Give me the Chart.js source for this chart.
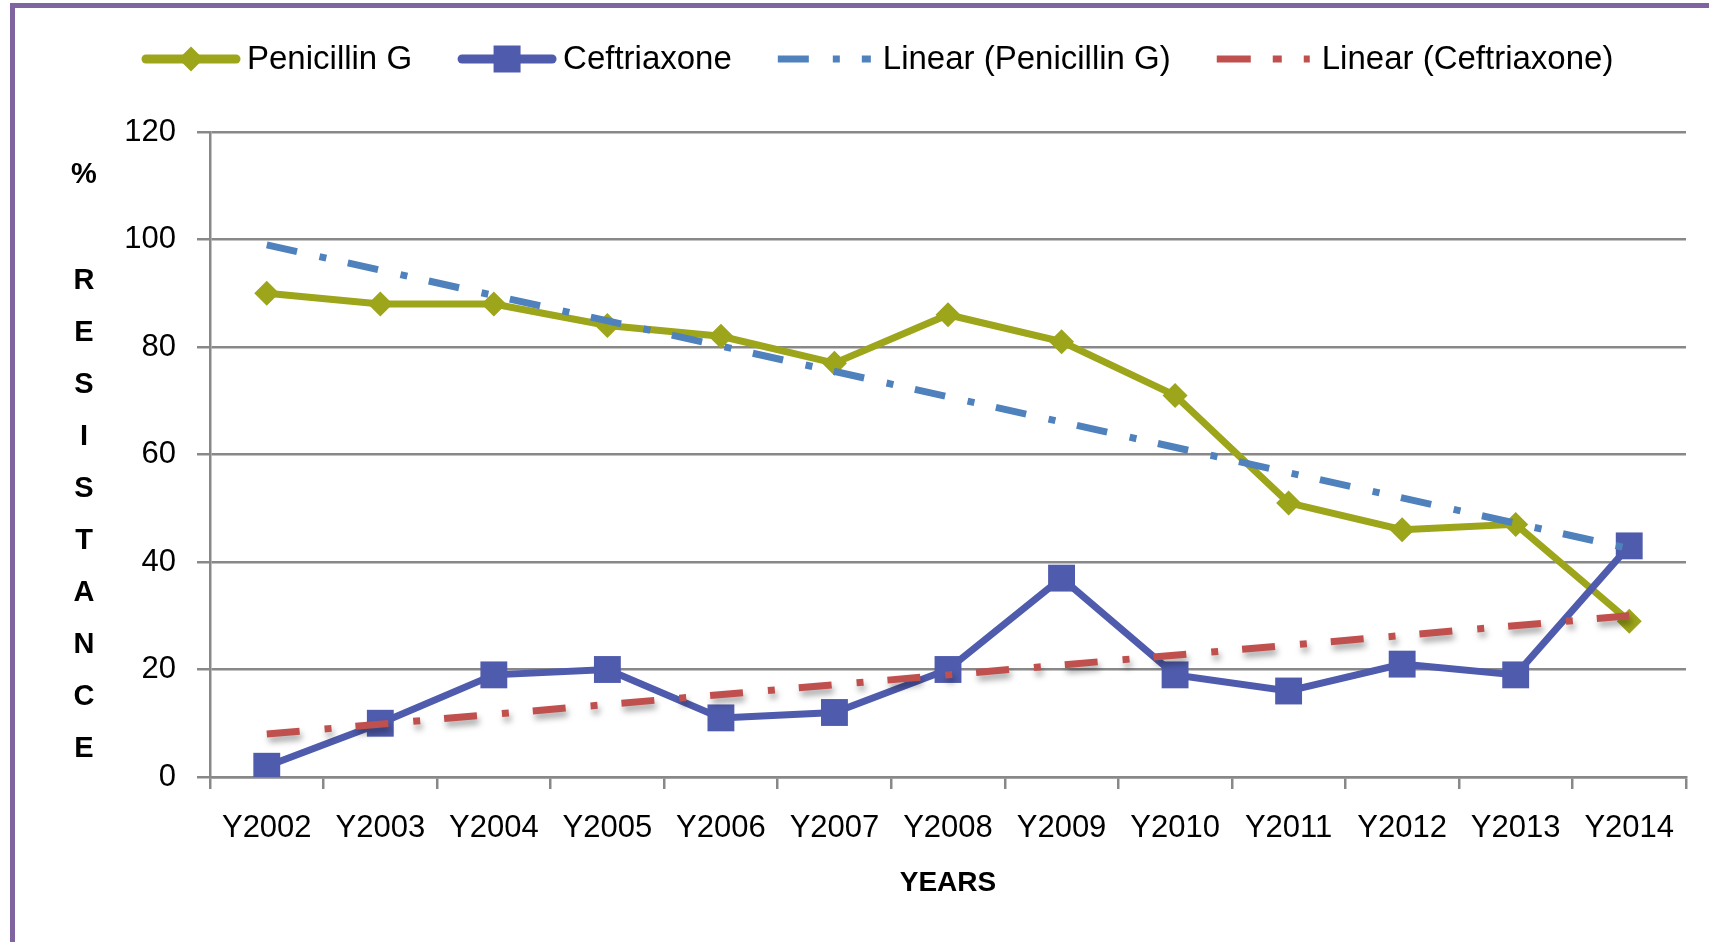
<!DOCTYPE html>
<html>
<head>
<meta charset="utf-8">
<title>Resistance: Penicillin G vs Ceftriaxone</title>
<script src="https://cdn.jsdelivr.net/npm/chart.js@4.4.1/dist/chart.umd.min.js"></script>
<style>
  html, body { margin: 0; padding: 0; background: #fff; overflow: hidden; }
  #wrap { position: relative; width: 1709px; height: 942px; }
  #frame { position: absolute; left: 10px; top: 3px; right: 0; bottom: 0;
           border-left: 5px solid #8064A2; border-top: 5px solid #8064A2; pointer-events: none; }
</style>
</head>
<body>
<div id="wrap">
  <canvas id="resistanceChart"></canvas>
  <div id="frame"></div>
</div>
<script>
const years = ['Y2002', 'Y2003', 'Y2004', 'Y2005', 'Y2006', 'Y2007', 'Y2008',
               'Y2009', 'Y2010', 'Y2011', 'Y2012', 'Y2013', 'Y2014'];
const penicillinG = [90, 88, 88, 84, 82, 77, 86, 81, 71, 51, 46, 47, 29];
const ceftriaxone = [2, 10, 19, 20, 11, 12, 20, 37, 19, 16, 21, 19, 43];
// trendline ends (first and last year)
const penicillinTrend = [99, 42.5];
const ceftriaxoneTrend = [8, 30];
const yTicks = [0, 20, 40, 60, 80, 100, 120];
const yTitle = ['R', 'E', 'S', 'I', 'S', 'T', 'A', 'N', 'C', 'E'];

const FONT = '"Liberation Sans", Arial, sans-serif';
const OLIVE = '#9DA51A';
const NAVY = '#4F5BAC';
const BLUE = '#4F81BD';
const RED = '#C0504D';
const GRID = '#888888';

const trendPoints = (ends) => [
    { x: years[0], y: ends[0] },
    { x: years[years.length - 1], y: ends[1] }
];

// legend look per dataset (line sample with marker in the middle)
const legendLook = [
    { width: 9, dash: null, marker: 'diamond', size: 12.5 },
    { width: 9, dash: null, marker: 'square', size: 13.5 },
    { width: 7, dash: [31, 24, 7, 22], marker: null },
    { width: 7, dash: [34, 22, 9, 22], marker: null }
];

function drawMarker(ctx, kind, x, y, s) {
    ctx.beginPath();
    if (kind === 'diamond') {
        ctx.moveTo(x - s, y);
        ctx.lineTo(x, y - s);
        ctx.lineTo(x + s, y);
        ctx.lineTo(x, y + s);
        ctx.closePath();
    } else {
        ctx.rect(x - s, y - s, 2 * s, 2 * s);
    }
    ctx.fill();
}

const sideText = {
    id: 'sideText',
    afterDraw(chart) {
        const ctx = chart.ctx;
        ctx.save();
        ctx.fillStyle = '#000';
        ctx.textAlign = 'center';
        ctx.textBaseline = 'middle';
        ctx.font = 'bold 29px ' + FONT;
        ctx.fillText('%', 84, 175);
        yTitle.forEach((ch, i) => ctx.fillText(ch, 84, 281 + i * 52.0));

        // legend
        let x = 142;
        const y = 59;
        ctx.font = '33px ' + FONT;
        ctx.textAlign = 'left';
        chart.data.datasets.forEach((ds, i) => {
            const look = legendLook[i];
            ctx.save();
            ctx.strokeStyle = ds.borderColor;
            ctx.lineWidth = look.width;
            if (look.dash) {
                ctx.setLineDash(look.dash);
                ctx.lineCap = 'butt';
            } else {
                ctx.lineCap = 'round';
            }
            ctx.beginPath();
            ctx.moveTo(x + (look.dash ? 0 : 4), y);
            ctx.lineTo(x + (look.dash ? 93 : 94), y);
            ctx.stroke();
            ctx.restore();
            if (look.marker) {
                ctx.fillStyle = ds.borderColor;
                drawMarker(ctx, look.marker, x + 49, y, look.size);
                ctx.fillStyle = '#000';
            }
            ctx.fillText(ds.label, x + 105, y + 1);
            x += 105 + ctx.measureText(ds.label).width + 46;
        });
        ctx.restore();
    }
};

// soft drop shadow under the Ceftriaxone trendline, as in the original
const trendShadow = {
    id: 'trendShadow',
    beforeDatasetDraw(chart, args) {
        if (args.index !== 3) return;
        const ctx = chart.ctx;
        ctx.save();
        ctx.shadowColor = 'rgba(0,0,0,0.35)';
        ctx.shadowBlur = 6;
        ctx.shadowOffsetX = 2;
        ctx.shadowOffsetY = 5;
    },
    afterDatasetDraw(chart, args) {
        if (args.index !== 3) return;
        chart.ctx.restore();
    }
};

new Chart(document.getElementById('resistanceChart'), {
    type: 'line',
    data: {
        labels: years,
        datasets: [
            {
                label: 'Penicillin G',
                data: penicillinG,
                borderColor: OLIVE,
                backgroundColor: OLIVE,
                borderWidth: 7,
                pointStyle: 'rectRot',
                pointRadius: 12.5,
                pointBackgroundColor: OLIVE,
                pointBorderWidth: 0,
                order: 3
            },
            {
                label: 'Ceftriaxone',
                data: ceftriaxone,
                borderColor: NAVY,
                backgroundColor: NAVY,
                borderWidth: 7,
                pointStyle: 'rect',
                pointRadius: 19,
                pointBackgroundColor: NAVY,
                pointBorderWidth: 0,
                order: 2
            },
            {
                label: 'Linear (Penicillin G)',
                data: trendPoints(penicillinTrend),
                borderColor: BLUE,
                borderWidth: 7,
                borderDash: [31, 23, 7, 22],
                borderCapStyle: 'butt',
                pointRadius: 0,
                order: 1
            },
            {
                label: 'Linear (Ceftriaxone)',
                data: trendPoints(ceftriaxoneTrend),
                borderColor: RED,
                borderWidth: 7,
                borderDash: [33, 25, 7, 24],
                borderCapStyle: 'butt',
                pointRadius: 0,
                order: 0
            }
        ]
    },
    options: {
        responsive: true,
        maintainAspectRatio: false,
        animation: false,
        events: [],
        layout: { padding: { top: 132, right: 23, left: 0, bottom: 0 } },
        plugins: {
            legend: { display: false },
            tooltip: { enabled: false }
        },
        scales: {
            x: {
                offset: true,
                grid: {
                    offset: true,
                    drawOnChartArea: false,
                    drawTicks: true,
                    tickLength: 12,
                    color: GRID,
                    lineWidth: 2.5
                },
                border: { display: true, color: GRID, width: 2.5 },
                ticks: {
                    color: '#000',
                    padding: 21,
                    maxRotation: 0,
                    autoSkip: false,
                    font: { family: FONT, size: 31 }
                },
                title: {
                    display: true,
                    text: 'YEARS',
                    color: '#000',
                    font: { family: FONT, size: 28, weight: 'bold' },
                    padding: { top: 0, bottom: 42 }
                },
                afterFit: (scale) => { scale.height = 942 - 777; }
            },
            y: {
                min: 0,
                max: 120,
                afterBuildTicks: (scale) => { scale.ticks = yTicks.map(v => ({ value: v })); },
                grid: {
                    color: GRID,
                    lineWidth: 2.5,
                    tickLength: 13
                },
                border: { display: true, color: GRID, width: 2.5 },
                ticks: {
                    color: '#000',
                    padding: 21,
                    font: { family: FONT, size: 31 }
                },
                afterFit: (scale) => { scale.width = 210; }
            }
        }
    },
    plugins: [sideText, trendShadow]
});
</script>
</body>
</html>
